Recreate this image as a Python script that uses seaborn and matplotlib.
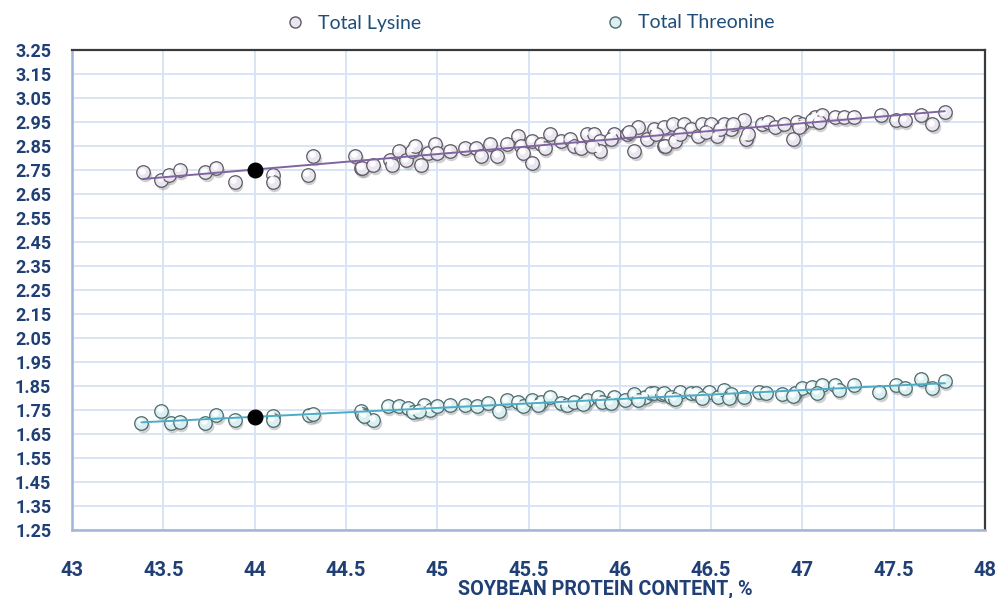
import matplotlib
matplotlib.use("Agg")
import matplotlib.pyplot as plt
import matplotlib.transforms as mtrans
from matplotlib.lines import Line2D
import numpy as np
import pandas as pd
import seaborn as sns

# ---------------- data ----------------
lysine_x = [43.39, 43.49, 43.53, 43.59, 43.73, 43.79, 43.89, 44.10, 44.10, 44.29,
            44.32, 44.55, 44.58, 44.59, 44.65, 44.74, 44.75, 44.79, 44.83, 44.86,
            44.88, 44.91, 44.95, 44.99, 45.00, 45.07, 45.15, 45.21, 45.24, 45.29,
            45.33, 45.38, 45.44, 45.46, 45.47, 45.52, 45.52, 45.57, 45.59, 45.62,
            45.68, 45.73, 45.75, 45.79, 45.82, 45.86, 45.89, 45.89, 45.97, 46.04,
            46.08, 46.10, 46.15, 46.19, 46.24, 46.24, 46.25, 46.29, 46.35, 46.39,
            46.43, 46.45, 46.50, 46.53, 46.57, 46.61, 46.68, 46.69, 46.70, 46.78,
            46.81, 46.85, 46.90, 46.95, 46.97, 47.00, 47.07, 47.11, 47.18, 47.23,
            47.28, 47.43, 47.51, 47.56, 47.65, 47.71, 47.78,
            45.85, 45.95, 46.05, 46.20, 46.30, 46.33, 46.47, 46.55, 46.62, 47.05,
            47.09, 46.98]
lysine_y = [2.74, 2.71, 2.73, 2.75, 2.74, 2.76, 2.70, 2.73, 2.70, 2.73,
            2.81, 2.81, 2.76, 2.76, 2.77, 2.79, 2.77, 2.83, 2.79, 2.83,
            2.85, 2.77, 2.82, 2.86, 2.82, 2.83, 2.84, 2.84, 2.81, 2.86,
            2.81, 2.86, 2.89, 2.85, 2.82, 2.78, 2.87, 2.86, 2.84, 2.90,
            2.87, 2.88, 2.85, 2.84, 2.90, 2.90, 2.87, 2.83, 2.90, 2.90,
            2.83, 2.93, 2.88, 2.92, 2.85, 2.93, 2.85, 2.94, 2.94, 2.92,
            2.89, 2.94, 2.94, 2.89, 2.94, 2.92, 2.96, 2.88, 2.90, 2.94,
            2.95, 2.93, 2.94, 2.88, 2.95, 2.94, 2.97, 2.98, 2.97, 2.97,
            2.97, 2.98, 2.96, 2.96, 2.98, 2.94, 2.99,
            2.85, 2.88, 2.91, 2.90, 2.87, 2.90, 2.91, 2.92, 2.94, 2.96,
            2.95, 2.93]

threonine_x = [43.38, 43.49, 43.54, 43.59, 43.73, 43.79, 43.89, 44.10, 44.10, 44.30,
               44.32, 44.58, 44.59, 44.65, 44.73, 44.79, 44.84, 44.87, 44.93, 44.96,
               45.00, 45.07, 45.15, 45.22, 45.28, 45.34, 45.38, 45.44, 45.47, 45.52,
               45.57, 45.62, 45.68, 45.71, 45.75, 45.82, 45.88, 45.90, 45.97, 46.03,
               46.08, 46.14, 46.17, 46.19, 46.23, 46.24, 46.28, 46.33, 46.39, 46.42,
               46.49, 46.54, 46.57, 46.61, 46.68, 46.76, 46.80, 46.89, 46.96, 47.00,
               47.05, 47.11, 47.18, 47.20, 47.28, 47.42, 47.51, 47.56, 47.65, 47.71,
               47.78,
               45.55, 45.80, 45.95, 46.10, 46.30, 46.45, 46.60, 46.95, 47.08, 44.60,
               44.90]
threonine_y = [1.695, 1.745, 1.695, 1.700, 1.695, 1.730, 1.710, 1.725, 1.710, 1.730,
               1.735, 1.745, 1.735, 1.710, 1.765, 1.765, 1.757, 1.740, 1.770, 1.750,
               1.765, 1.770, 1.770, 1.765, 1.780, 1.745, 1.790, 1.785, 1.765, 1.790,
               1.785, 1.805, 1.780, 1.770, 1.785, 1.790, 1.805, 1.785, 1.805, 1.790,
               1.815, 1.805, 1.820, 1.820, 1.815, 1.820, 1.805, 1.825, 1.820, 1.820,
               1.825, 1.805, 1.835, 1.815, 1.805, 1.825, 1.820, 1.815, 1.820, 1.840,
               1.845, 1.855, 1.855, 1.835, 1.855, 1.825, 1.855, 1.840, 1.880, 1.840,
               1.870,
               1.770, 1.775, 1.780, 1.790, 1.795, 1.800, 1.800, 1.810, 1.820, 1.725,
               1.745]

highlight_x = [44.0]
highlight_lysine = [2.75]
highlight_threonine = [1.72]

x_ticks = [43, 43.5, 44, 44.5, 45, 45.5, 46, 46.5, 47, 47.5, 48]
y_ticks = [1.25, 1.35, 1.45, 1.55, 1.65, 1.75, 1.85, 1.95, 2.05, 2.15, 2.25,
           2.35, 2.45, 2.55, 2.65, 2.75, 2.85, 2.95, 3.05, 3.15, 3.25]
series_names = ["Total Lysine", "Total Threonine"]
x_title = "SOYBEAN PROTEIN CONTENT, %"

# ---------------- styling ----------------
sns.set_theme(style="white")
plt.rcParams["font.family"] = ["Lato", "DejaVu Sans"]
bold_family = ["Roboto", "DejaVu Sans"]

navy = "#1f3f75"
lys_face, lys_edge, lys_line = "#e9e6ef", "#5e5a66", "#8064a2"
thr_face, thr_edge, thr_line = "#daeff1", "#4f6a6d", "#4bacc6"

fig = plt.figure(figsize=(9.98, 5.98), dpi=100)
ax = fig.add_axes([72 / 998, 1 - 530 / 598, (985 - 72) / 998, (530 - 50) / 598])

df_l = pd.DataFrame({"x": lysine_x, "y": lysine_y})
df_t = pd.DataFrame({"x": threonine_x, "y": threonine_y})

shadow = mtrans.offset_copy(ax.transData, fig=fig, x=1.5, y=-3.0, units="dots")
hilite = mtrans.offset_copy(ax.transData, fig=fig, x=-1.5, y=1.8, units="dots")

msize = 95
for df, face, edge in [(df_l, lys_face, lys_edge), (df_t, thr_face, thr_edge)]:
    ax.scatter(df["x"], df["y"], s=msize, color="#7a7a7a", alpha=0.35,
               linewidths=0, transform=shadow, zorder=3)
    sns.scatterplot(data=df, x="x", y="y", ax=ax, s=msize, color=face,
                    edgecolor=edge, linewidth=0.9, zorder=4, legend=False)
    ax.scatter(df["x"], df["y"], s=22, color="white", alpha=0.95,
               linewidths=0, transform=hilite, zorder=5)

# trend lines (drawn over the markers)
sns.regplot(data=df_l, x="x", y="y", ax=ax, scatter=False, ci=None,
            truncate=True, line_kws=dict(color=lys_line, lw=1.4, zorder=6))
sns.regplot(data=df_t, x="x", y="y", ax=ax, scatter=False, ci=None,
            truncate=True, line_kws=dict(color=thr_line, lw=1.4, zorder=6))

# highlighted points
ax.scatter(highlight_x, highlight_lysine, s=110, color="black", zorder=7)
ax.scatter(highlight_x, highlight_threonine, s=110, color="black", zorder=7)

ax.set_xlim(43, 48)
ax.set_ylim(1.25, 3.25)
ax.set_xticks(x_ticks)
ax.set_yticks(y_ticks)
ax.set_xticklabels([f"{v:g}" for v in x_ticks], fontfamily=bold_family,
                   fontweight="bold", fontsize=14.5, color=navy)
ax.set_yticklabels([f"{v:.2f}" for v in y_ticks], fontfamily=bold_family,
                   fontweight="bold", fontsize=13, color=navy)
ax.set_xlabel("")
ax.set_ylabel("")
ax.grid(True, color="#d5e3f4", lw=1.3)
ax.set_axisbelow(True)
ax.tick_params(axis="both", length=0)
ax.tick_params(axis="y", pad=15)
ax.tick_params(axis="x", pad=22)

for side in ["top", "right"]:
    ax.spines[side].set_color("#3a3a3a")
    ax.spines[side].set_linewidth(1.6)
for side in ["left", "bottom"]:
    ax.spines[side].set_color("#9fb6d8")
    ax.spines[side].set_linewidth(1.8)

fig.text(605 / 998, 1 - 589 / 598, x_title, ha="center", va="center",
         fontsize=14.2, fontweight="bold", fontfamily=bold_family, color=navy)

handles = [
    Line2D([], [], ls="", marker="o", markersize=8, markerfacecolor=lys_face,
           markeredgecolor=lys_edge, markeredgewidth=1.0),
    Line2D([], [], ls="", marker="o", markersize=8, markerfacecolor=thr_face,
           markeredgecolor=thr_edge, markeredgewidth=1.0),
]
fig.legend(handles, series_names, loc="center", bbox_to_anchor=(525 / 998, 1 - 23 / 598),
           ncol=2, frameon=False, columnspacing=9.0, handletextpad=0.15,
           fontsize=14, labelcolor="#1f4e79")

fig.savefig("out.png", dpi=100)
